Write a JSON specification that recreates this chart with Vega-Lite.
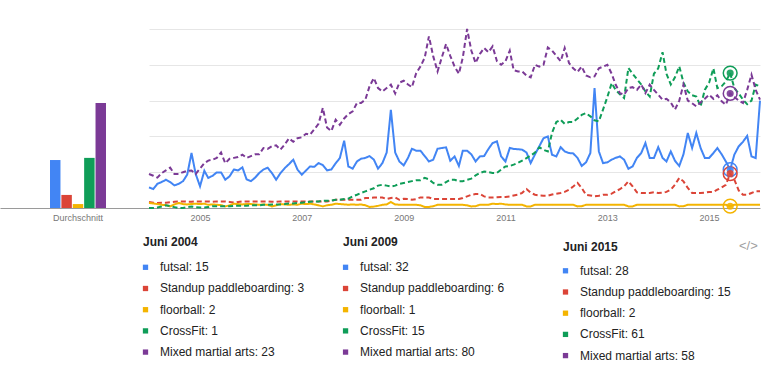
{
  "$schema": "https://vega.github.io/schema/vega-lite/v6.json",
  "background": "white",
  "padding": {"left": 0, "top": 25, "right": 0, "bottom": 0},
  "config": {
    "view": {"stroke": null},
    "font": "Liberation Sans",
    "axis": {"domainColor": "#9a9a9a", "labelColor": "#777777", "labelFontSize": 9, "ticks": false, "tickSize": 0, "labelPadding": 5}
  },
  "datasets": {
    "avg": [
      {"period": "Durchschnitt", "term": "futsal", "v": 26.8},
      {"period": "Durchschnitt", "term": "sup", "v": 7.3},
      {"period": "Durchschnitt", "term": "floorball", "v": 2.2},
      {"period": "Durchschnitt", "term": "crossfit", "v": 28},
      {"period": "Durchschnitt", "term": "mma", "v": 58.7}
    ],
    "ts": [
      {"d":"2004-01-01","futsal":11.5,"sup":3.4,"floorball":2.8,"crossfit":0,"mma":19},
      {"d":"2004-02-01","futsal":10.6,"sup":3,"floorball":2.5,"crossfit":0,"mma":18},
      {"d":"2004-03-01","futsal":13.5,"sup":2.8,"floorball":2.2,"crossfit":0.3,"mma":17},
      {"d":"2004-04-01","futsal":14.5,"sup":3,"floorball":1.8,"crossfit":0.8,"mma":19.5},
      {"d":"2004-05-01","futsal":15.8,"sup":3,"floorball":1.6,"crossfit":1.5,"mma":21},
      {"d":"2004-06-01","futsal":14.5,"sup":3.2,"floorball":0.9,"crossfit":1,"mma":22.5},
      {"d":"2004-07-01","futsal":12.6,"sup":3.5,"floorball":2,"crossfit":0.5,"mma":19},
      {"d":"2004-08-01","futsal":13.5,"sup":3.7,"floorball":2.8,"crossfit":0,"mma":19},
      {"d":"2004-09-01","futsal":15,"sup":3.7,"floorball":2.2,"crossfit":0,"mma":20},
      {"d":"2004-10-01","futsal":18.6,"sup":3.5,"floorball":2,"crossfit":0.5,"mma":20.8},
      {"d":"2004-11-01","futsal":30.7,"sup":3.5,"floorball":2.2,"crossfit":0.8,"mma":21},
      {"d":"2004-12-01","futsal":19,"sup":3.7,"floorball":2.4,"crossfit":0.5,"mma":19},
      {"d":"2005-01-01","futsal":12.1,"sup":3.7,"floorball":2.2,"crossfit":0.3,"mma":22},
      {"d":"2005-02-01","futsal":20.8,"sup":3.7,"floorball":2.4,"crossfit":0.3,"mma":25},
      {"d":"2005-03-01","futsal":16.8,"sup":3.7,"floorball":1.8,"crossfit":0.5,"mma":26.5},
      {"d":"2005-04-01","futsal":18,"sup":3.5,"floorball":2,"crossfit":1,"mma":27},
      {"d":"2005-05-01","futsal":19.9,"sup":3.7,"floorball":1.8,"crossfit":1,"mma":28},
      {"d":"2005-06-01","futsal":19.9,"sup":3.7,"floorball":1.6,"crossfit":1,"mma":31},
      {"d":"2005-07-01","futsal":15.8,"sup":3.7,"floorball":0.9,"crossfit":1,"mma":25},
      {"d":"2005-08-01","futsal":17.7,"sup":3.4,"floorball":1.5,"crossfit":1,"mma":27.5},
      {"d":"2005-09-01","futsal":21.5,"sup":3,"floorball":2.4,"crossfit":1.2,"mma":28},
      {"d":"2005-10-01","futsal":21,"sup":3.4,"floorball":2.2,"crossfit":1.2,"mma":28.5},
      {"d":"2005-11-01","futsal":22.7,"sup":3.7,"floorball":2,"crossfit":1.2,"mma":29.8},
      {"d":"2005-12-01","futsal":16,"sup":3.7,"floorball":2.2,"crossfit":1.2,"mma":28},
      {"d":"2006-01-01","futsal":15,"sup":3.7,"floorball":2.2,"crossfit":1.5,"mma":29},
      {"d":"2006-02-01","futsal":17,"sup":3.7,"floorball":2,"crossfit":1.5,"mma":30},
      {"d":"2006-03-01","futsal":19.5,"sup":3.7,"floorball":1.8,"crossfit":1.5,"mma":30},
      {"d":"2006-04-01","futsal":21.5,"sup":3.7,"floorball":2,"crossfit":1.8,"mma":33.5},
      {"d":"2006-05-01","futsal":22.5,"sup":3.7,"floorball":1.8,"crossfit":1.8,"mma":33},
      {"d":"2006-06-01","futsal":19.5,"sup":3.5,"floorball":0.9,"crossfit":2,"mma":34.5},
      {"d":"2006-07-01","futsal":15.8,"sup":3.4,"floorball":1.5,"crossfit":2,"mma":35},
      {"d":"2006-08-01","futsal":19.5,"sup":3.7,"floorball":2.2,"crossfit":2,"mma":32.6},
      {"d":"2006-09-01","futsal":22.3,"sup":3.7,"floorball":2,"crossfit":2.2,"mma":35.5},
      {"d":"2006-10-01","futsal":24.5,"sup":3.7,"floorball":1.8,"crossfit":2.5,"mma":38.9},
      {"d":"2006-11-01","futsal":27,"sup":3.7,"floorball":2,"crossfit":2.5,"mma":37},
      {"d":"2006-12-01","futsal":21.5,"sup":3.7,"floorball":1.8,"crossfit":2.8,"mma":39},
      {"d":"2007-01-01","futsal":18.6,"sup":3.7,"floorball":2.4,"crossfit":3,"mma":39.5},
      {"d":"2007-02-01","futsal":21,"sup":3.7,"floorball":2.2,"crossfit":3.2,"mma":41.5},
      {"d":"2007-03-01","futsal":23.2,"sup":3.7,"floorball":2.4,"crossfit":3.5,"mma":41},
      {"d":"2007-04-01","futsal":23,"sup":3.7,"floorball":2,"crossfit":3.7,"mma":44},
      {"d":"2007-05-01","futsal":25.1,"sup":3.7,"floorball":1.5,"crossfit":3.7,"mma":47},
      {"d":"2007-06-01","futsal":24,"sup":3.7,"floorball":0.9,"crossfit":4,"mma":55.9},
      {"d":"2007-07-01","futsal":21,"sup":3.7,"floorball":1.5,"crossfit":4,"mma":45},
      {"d":"2007-08-01","futsal":21.5,"sup":4,"floorball":1.8,"crossfit":4.2,"mma":43},
      {"d":"2007-09-01","futsal":25,"sup":4.6,"floorball":2.4,"crossfit":4.6,"mma":49.3},
      {"d":"2007-10-01","futsal":27.9,"sup":4.6,"floorball":2.2,"crossfit":4.6,"mma":46.5},
      {"d":"2007-11-01","futsal":37.6,"sup":4.6,"floorball":2,"crossfit":5,"mma":50},
      {"d":"2007-12-01","futsal":23.2,"sup":4.6,"floorball":1.8,"crossfit":5.2,"mma":52.5},
      {"d":"2008-01-01","futsal":22,"sup":4.6,"floorball":2,"crossfit":6.5,"mma":54},
      {"d":"2008-02-01","futsal":26,"sup":4.6,"floorball":1.8,"crossfit":7.4,"mma":58.7},
      {"d":"2008-03-01","futsal":27.5,"sup":4.6,"floorball":2,"crossfit":8.4,"mma":58.7},
      {"d":"2008-04-01","futsal":28,"sup":5.6,"floorball":1.5,"crossfit":9.3,"mma":60.5},
      {"d":"2008-05-01","futsal":29,"sup":5.6,"floorball":0.6,"crossfit":10.2,"mma":68},
      {"d":"2008-06-01","futsal":27,"sup":5.9,"floorball":0.8,"crossfit":11,"mma":72.6},
      {"d":"2008-07-01","futsal":22,"sup":5.9,"floorball":1.2,"crossfit":12.5,"mma":67},
      {"d":"2008-08-01","futsal":25,"sup":5.9,"floorball":1.8,"crossfit":13,"mma":65.1},
      {"d":"2008-09-01","futsal":31,"sup":5,"floorball":2,"crossfit":12.5,"mma":67},
      {"d":"2008-10-01","futsal":54.9,"sup":5.6,"floorball":3.4,"crossfit":12,"mma":68.9},
      {"d":"2008-11-01","futsal":31,"sup":5.9,"floorball":2,"crossfit":12.5,"mma":64},
      {"d":"2008-12-01","futsal":26,"sup":4.6,"floorball":1.8,"crossfit":13.5,"mma":70},
      {"d":"2009-01-01","futsal":23.8,"sup":5.2,"floorball":1.8,"crossfit":14,"mma":71.1},
      {"d":"2009-02-01","futsal":28,"sup":5,"floorball":1.8,"crossfit":14.5,"mma":69},
      {"d":"2009-03-01","futsal":33.1,"sup":4.6,"floorball":1.8,"crossfit":15,"mma":67.5},
      {"d":"2009-04-01","futsal":32,"sup":5,"floorball":1.8,"crossfit":15.5,"mma":75.4},
      {"d":"2009-05-01","futsal":32,"sup":5.9,"floorball":1.5,"crossfit":15.5,"mma":79},
      {"d":"2009-06-01","futsal":29,"sup":5.9,"floorball":0.6,"crossfit":16.8,"mma":84},
      {"d":"2009-07-01","futsal":26,"sup":5.9,"floorball":0.6,"crossfit":16,"mma":95.9},
      {"d":"2009-08-01","futsal":27,"sup":5,"floorball":1,"crossfit":14,"mma":84.7},
      {"d":"2009-09-01","futsal":33.1,"sup":5,"floorball":1.8,"crossfit":13,"mma":76.3},
      {"d":"2009-10-01","futsal":33.5,"sup":5,"floorball":1.8,"crossfit":13,"mma":84},
      {"d":"2009-11-01","futsal":33.9,"sup":5,"floorball":1.8,"crossfit":14.5,"mma":91.6},
      {"d":"2009-12-01","futsal":26.4,"sup":5,"floorball":1.8,"crossfit":15.8,"mma":85},
      {"d":"2010-01-01","futsal":28.8,"sup":5,"floorball":1.8,"crossfit":15.8,"mma":79},
      {"d":"2010-02-01","futsal":23.5,"sup":5,"floorball":1.8,"crossfit":14.9,"mma":75},
      {"d":"2010-03-01","futsal":32,"sup":5.6,"floorball":1.8,"crossfit":15,"mma":84},
      {"d":"2010-04-01","futsal":32,"sup":6.5,"floorball":1.5,"crossfit":15.8,"mma":100},
      {"d":"2010-05-01","futsal":30,"sup":7.4,"floorball":0.9,"crossfit":16.4,"mma":88},
      {"d":"2010-06-01","futsal":26,"sup":7.8,"floorball":1,"crossfit":18.2,"mma":81},
      {"d":"2010-07-01","futsal":28.8,"sup":7.8,"floorball":1.8,"crossfit":19.5,"mma":86},
      {"d":"2010-08-01","futsal":29,"sup":6.5,"floorball":1.8,"crossfit":20.4,"mma":89.4},
      {"d":"2010-09-01","futsal":33,"sup":5.9,"floorball":1.8,"crossfit":20,"mma":87},
      {"d":"2010-10-01","futsal":36.3,"sup":5.9,"floorball":2.4,"crossfit":19.6,"mma":90.3},
      {"d":"2010-11-01","futsal":37.2,"sup":6,"floorball":2.2,"crossfit":19.6,"mma":82},
      {"d":"2010-12-01","futsal":28.8,"sup":6.2,"floorball":2.4,"crossfit":21.5,"mma":80},
      {"d":"2011-01-01","futsal":26,"sup":6.2,"floorball":2,"crossfit":23.2,"mma":82},
      {"d":"2011-02-01","futsal":33.5,"sup":6.5,"floorball":1.8,"crossfit":23.5,"mma":87.9},
      {"d":"2011-03-01","futsal":33,"sup":7,"floorball":1.8,"crossfit":24.2,"mma":77},
      {"d":"2011-04-01","futsal":32.8,"sup":7.4,"floorball":1.8,"crossfit":25.2,"mma":76.3},
      {"d":"2011-05-01","futsal":32.6,"sup":8.5,"floorball":1.8,"crossfit":26.5,"mma":76.3},
      {"d":"2011-06-01","futsal":31,"sup":10.6,"floorball":0.9,"crossfit":27.9,"mma":74},
      {"d":"2011-07-01","futsal":25.1,"sup":8.5,"floorball":0.9,"crossfit":29.3,"mma":73},
      {"d":"2011-08-01","futsal":30,"sup":7.4,"floorball":1.8,"crossfit":31,"mma":80},
      {"d":"2011-09-01","futsal":34.5,"sup":7,"floorball":1.8,"crossfit":33.9,"mma":79},
      {"d":"2011-10-01","futsal":39,"sup":6.9,"floorball":1.8,"crossfit":32.5,"mma":80},
      {"d":"2011-11-01","futsal":40,"sup":6.9,"floorball":1.8,"crossfit":31.6,"mma":89.7},
      {"d":"2011-12-01","futsal":29.8,"sup":7.5,"floorball":1.8,"crossfit":42,"mma":88},
      {"d":"2012-01-01","futsal":28.8,"sup":8,"floorball":1.8,"crossfit":48,"mma":85},
      {"d":"2012-02-01","futsal":34,"sup":8.4,"floorball":1.8,"crossfit":49.3,"mma":82},
      {"d":"2012-03-01","futsal":31.6,"sup":9,"floorball":1.8,"crossfit":47,"mma":89.4},
      {"d":"2012-04-01","futsal":30.7,"sup":10.2,"floorball":1.8,"crossfit":48,"mma":81},
      {"d":"2012-05-01","futsal":30.5,"sup":12,"floorball":1.8,"crossfit":48,"mma":78},
      {"d":"2012-06-01","futsal":28,"sup":14,"floorball":0.9,"crossfit":50,"mma":76},
      {"d":"2012-07-01","futsal":23.5,"sup":11.2,"floorball":1,"crossfit":52,"mma":79},
      {"d":"2012-08-01","futsal":25.5,"sup":7.4,"floorball":1.8,"crossfit":53,"mma":74},
      {"d":"2012-09-01","futsal":30.7,"sup":7,"floorball":1.8,"crossfit":51.2,"mma":73},
      {"d":"2012-10-01","futsal":67,"sup":6.5,"floorball":1.8,"crossfit":49,"mma":73.5},
      {"d":"2012-11-01","futsal":31.6,"sup":6.8,"floorball":1.8,"crossfit":48.4,"mma":78},
      {"d":"2012-12-01","futsal":25.1,"sup":7.4,"floorball":1.8,"crossfit":55,"mma":79},
      {"d":"2013-01-01","futsal":25.5,"sup":7.4,"floorball":1.8,"crossfit":62,"mma":80},
      {"d":"2013-02-01","futsal":27,"sup":8,"floorball":1.8,"crossfit":69.8,"mma":75},
      {"d":"2013-03-01","futsal":28,"sup":9.3,"floorball":1.8,"crossfit":66,"mma":69},
      {"d":"2013-04-01","futsal":28.8,"sup":10.5,"floorball":1.8,"crossfit":63.5,"mma":64.2},
      {"d":"2013-05-01","futsal":27,"sup":12.1,"floorball":1.8,"crossfit":61.4,"mma":63.3},
      {"d":"2013-06-01","futsal":21.9,"sup":14.9,"floorball":0.9,"crossfit":78.2,"mma":67},
      {"d":"2013-07-01","futsal":23.2,"sup":12.1,"floorball":0.9,"crossfit":75,"mma":67.5},
      {"d":"2013-08-01","futsal":28,"sup":8.7,"floorball":1.8,"crossfit":72,"mma":66},
      {"d":"2013-09-01","futsal":30.7,"sup":8.4,"floorball":1.8,"crossfit":69,"mma":69},
      {"d":"2013-10-01","futsal":36.3,"sup":8.4,"floorball":1.8,"crossfit":65.1,"mma":64.2},
      {"d":"2013-11-01","futsal":27.9,"sup":8.4,"floorball":1.8,"crossfit":62.3,"mma":68.9},
      {"d":"2013-12-01","futsal":27.9,"sup":8.8,"floorball":1.8,"crossfit":75,"mma":66},
      {"d":"2014-01-01","futsal":34,"sup":8.4,"floorball":1.8,"crossfit":78,"mma":63.3},
      {"d":"2014-02-01","futsal":28,"sup":8.6,"floorball":1.8,"crossfit":87,"mma":60.5},
      {"d":"2014-03-01","futsal":26,"sup":9,"floorball":1.8,"crossfit":75,"mma":61},
      {"d":"2014-04-01","futsal":31.6,"sup":10.2,"floorball":1.8,"crossfit":69,"mma":59},
      {"d":"2014-05-01","futsal":26.4,"sup":13,"floorball":1.8,"crossfit":73,"mma":55},
      {"d":"2014-06-01","futsal":23.5,"sup":16.8,"floorball":0.9,"crossfit":79.1,"mma":60},
      {"d":"2014-07-01","futsal":30,"sup":14.9,"floorball":1,"crossfit":70,"mma":69},
      {"d":"2014-08-01","futsal":41.9,"sup":11.2,"floorball":1.8,"crossfit":65.1,"mma":60},
      {"d":"2014-09-01","futsal":33.5,"sup":8.4,"floorball":1.8,"crossfit":63,"mma":58.5},
      {"d":"2014-10-01","futsal":41.9,"sup":8.4,"floorball":1.8,"crossfit":62.3,"mma":56.8},
      {"d":"2014-11-01","futsal":33.5,"sup":8.4,"floorball":1.8,"crossfit":56.8,"mma":59},
      {"d":"2014-12-01","futsal":28,"sup":8.6,"floorball":1.8,"crossfit":66,"mma":61},
      {"d":"2015-01-01","futsal":28,"sup":9,"floorball":1.8,"crossfit":70,"mma":63.3},
      {"d":"2015-02-01","futsal":30.7,"sup":9,"floorball":1.8,"crossfit":78,"mma":61},
      {"d":"2015-03-01","futsal":33.5,"sup":10.2,"floorball":1.8,"crossfit":67,"mma":63},
      {"d":"2015-04-01","futsal":30,"sup":11.5,"floorball":1.8,"crossfit":68,"mma":59.6},
      {"d":"2015-05-01","futsal":26,"sup":13,"floorball":1.8,"crossfit":70.7,"mma":57.7},
      {"d":"2015-06-01","futsal":21.4,"sup":19.2,"floorball":1,"crossfit":75.4,"mma":64},
      {"d":"2015-07-01","futsal":29.8,"sup":15.8,"floorball":1.8,"crossfit":67,"mma":62},
      {"d":"2015-08-01","futsal":34.4,"sup":9.8,"floorball":1.8,"crossfit":64,"mma":60},
      {"d":"2015-09-01","futsal":37,"sup":7.4,"floorball":1.8,"crossfit":60.5,"mma":58.7},
      {"d":"2015-10-01","futsal":40.3,"sup":7.4,"floorball":1.8,"crossfit":58,"mma":66},
      {"d":"2015-11-01","futsal":28.8,"sup":8.4,"floorball":1.8,"crossfit":60,"mma":74.5},
      {"d":"2015-12-01","futsal":27.9,"sup":9.3,"floorball":1.8,"crossfit":68.9,"mma":66},
      {"d":"2016-01-01","futsal":60,"sup":9.3,"floorball":1.8,"crossfit":68,"mma":60.5}
    ],
    "leg": [
      {"kind": "head", "col": 0, "row": 0, "label": "Juni 2004"},
      {"kind": "head", "col": 1, "row": 0, "label": "Juni 2009"},
      {"kind": "head", "col": 2, "row": 0, "label": "Juni 2015"},
      {"kind": "icon", "col": 2, "row": 0, "label": "</>"},
      {"kind": "item", "col": 0, "row": 1, "term": "futsal", "label": "futsal: 15"},
      {"kind": "item", "col": 0, "row": 2, "term": "sup", "label": "Standup paddleboarding: 3"},
      {"kind": "item", "col": 0, "row": 3, "term": "floorball", "label": "floorball: 2"},
      {"kind": "item", "col": 0, "row": 4, "term": "crossfit", "label": "CrossFit: 1"},
      {"kind": "item", "col": 0, "row": 5, "term": "mma", "label": "Mixed martial arts: 23"},
      {"kind": "item", "col": 1, "row": 1, "term": "futsal", "label": "futsal: 32"},
      {"kind": "item", "col": 1, "row": 2, "term": "sup", "label": "Standup paddleboarding: 6"},
      {"kind": "item", "col": 1, "row": 3, "term": "floorball", "label": "floorball: 1"},
      {"kind": "item", "col": 1, "row": 4, "term": "crossfit", "label": "CrossFit: 15"},
      {"kind": "item", "col": 1, "row": 5, "term": "mma", "label": "Mixed martial arts: 80"},
      {"kind": "item", "col": 2, "row": 1, "term": "futsal", "label": "futsal: 28"},
      {"kind": "item", "col": 2, "row": 2, "term": "sup", "label": "Standup paddleboarding: 15"},
      {"kind": "item", "col": 2, "row": 3, "term": "floorball", "label": "floorball: 2"},
      {"kind": "item", "col": 2, "row": 4, "term": "crossfit", "label": "CrossFit: 61"},
      {"kind": "item", "col": 2, "row": 5, "term": "mma", "label": "Mixed martial arts: 58"}
    ]
  },
  "spacing": 8,
  "vconcat": [
    {
      "hconcat": [
        {
          "width": 149,
          "height": 179,
          "data": {"name": "avg"},
          "mark": {"type": "bar"},
          "encoding": {
            "x": {"field": "period", "type": "nominal", "scale": {"paddingInner": 0, "paddingOuter": 0.8304, "align": 0.5376}, "axis": {"title": null, "labelAngle": 0}},
            "xOffset": {"field": "term", "type": "nominal", "sort": ["futsal", "sup", "floorball", "crossfit", "mma"], "scale": {"paddingInner": 0.08, "paddingOuter": 0}},
            "y": {"field": "v", "type": "quantitative", "scale": {"domain": [0, 100]}, "axis": null},
            "color": {"field": "term", "type": "nominal", "scale": {"domain": ["futsal", "sup", "floorball", "crossfit", "mma"], "range": ["#4285f4", "#db4437", "#f4b400", "#0f9d58", "#7b3a96"]}, "legend": null}
          }
        },
        {
          "width": 611,
          "height": 179,
          "data": {"name": "ts"},
          "transform": [{"fold": ["futsal", "sup", "floorball", "crossfit", "mma"], "as": ["key", "v"]}],
          "encoding": {
            "x": {"field": "d", "type": "temporal", "scale": {"type": "utc", "domain": [{"year": 2004, "month": 1, "date": 1, "utc": true}, {"year": 2016, "month": 1, "date": 1, "utc": true}]},
                  "axis": {"title": null, "grid": false, "format": "%Y", "labelOverlap": false, "labelFlush": false,
                           "values": [{"year": 2005, "month": 1, "date": 1, "utc": true}, {"year": 2007, "month": 1, "date": 1, "utc": true}, {"year": 2009, "month": 1, "date": 1, "utc": true}, {"year": 2011, "month": 1, "date": 1, "utc": true}, {"year": 2013, "month": 1, "date": 1, "utc": true}, {"year": 2015, "month": 1, "date": 1, "utc": true}]}},
            "y": {"field": "v", "type": "quantitative", "scale": {"domain": [0, 100]},
                  "axis": {"title": null, "values": [20, 40, 60, 80, 100], "grid": true, "gridColor": "#e6e6e6", "labels": false, "ticks": false, "domain": false}},
            "color": {"field": "key", "type": "nominal", "scale": {"domain": ["futsal", "sup", "floorball", "crossfit", "mma"], "range": ["#4285f4", "#db4437", "#f4b400", "#0f9d58", "#7b3a96"]}, "legend": null}
          },
          "layer": [
            {
              "mark": {"type": "line", "strokeWidth": 2},
              "encoding": {
                "strokeDash": {"field": "key", "type": "nominal", "scale": {"domain": ["futsal", "sup", "floorball", "crossfit", "mma"], "range": [[1, 0], [5, 3], [1, 0], [5, 3], [5, 3]]}, "legend": null}
              }
            },
            {
              "transform": [{"filter": "year(datum.d) == 2015 && month(datum.d) == 5"}],
              "mark": {"type": "point", "filled": false, "size": 190, "strokeWidth": 1.5, "opacity": 1}
            },
            {
              "transform": [{"filter": "year(datum.d) == 2015 && month(datum.d) == 5"}],
              "mark": {"type": "circle", "size": 50, "opacity": 0.9}
            }
          ]
        }
      ],
      "spacing": 0,
      "bounds": "flush"
    },
    {
      "width": 779,
      "height": 130,
      "data": {"name": "leg"},
      "encoding": {
        "x": {"field": "col", "type": "quantitative", "scale": {"type": "pow", "exponent": 1.07, "domain": [0, 2], "range": [143, 563]}, "axis": null},
        "y": {"field": "row", "type": "quantitative", "scale": {"domain": [-0.759, 5.373], "reverse": true, "zero": false, "nice": false}, "axis": null}
      },
      "layer": [
        {
          "transform": [{"filter": "datum.kind == 'head' && datum.col < 2"}],
          "mark": {"type": "text", "align": "left", "baseline": "middle", "fontWeight": "bold", "fontSize": 12, "dy": -4, "color": "#222222"},
          "encoding": {"text": {"field": "label"}}
        },
        {
          "transform": [{"filter": "datum.kind == 'head' && datum.col == 2"}],
          "mark": {"type": "text", "align": "left", "baseline": "middle", "fontWeight": "bold", "fontSize": 12, "dy": 0.5, "color": "#222222"},
          "encoding": {"text": {"field": "label"}}
        },
        {
          "transform": [{"filter": "datum.kind == 'icon'"}],
          "mark": {"type": "text", "align": "left", "baseline": "middle", "fontSize": 13, "dx": 176, "color": "#a0a0a0"},
          "encoding": {"text": {"field": "label"}}
        },
        {
          "transform": [{"filter": "datum.kind == 'item' && datum.col < 2"}],
          "mark": {"type": "square", "size": 28, "opacity": 1, "filled": true, "xOffset": 2.5},
          "encoding": {"color": {"field": "term", "type": "nominal", "scale": {"domain": ["futsal", "sup", "floorball", "crossfit", "mma"], "range": ["#4285f4", "#db4437", "#f4b400", "#0f9d58", "#7b3a96"]}, "legend": null}}
        },
        {
          "transform": [{"filter": "datum.kind == 'item' && datum.col == 2"}],
          "mark": {"type": "square", "size": 28, "opacity": 1, "filled": true, "xOffset": 2.5, "yOffset": 3.5},
          "encoding": {"color": {"field": "term", "type": "nominal", "scale": {"domain": ["futsal", "sup", "floorball", "crossfit", "mma"], "range": ["#4285f4", "#db4437", "#f4b400", "#0f9d58", "#7b3a96"]}, "legend": null}}
        },
        {
          "transform": [{"filter": "datum.kind == 'item' && datum.col < 2"}],
          "mark": {"type": "text", "align": "left", "baseline": "middle", "fontSize": 12, "dx": 17, "color": "#222222"},
          "encoding": {"text": {"field": "label"}}
        },
        {
          "transform": [{"filter": "datum.kind == 'item' && datum.col == 2"}],
          "mark": {"type": "text", "align": "left", "baseline": "middle", "fontSize": 12, "dx": 17, "dy": 3.5, "color": "#222222"},
          "encoding": {"text": {"field": "label"}}
        }
      ]
    }
  ]
}
